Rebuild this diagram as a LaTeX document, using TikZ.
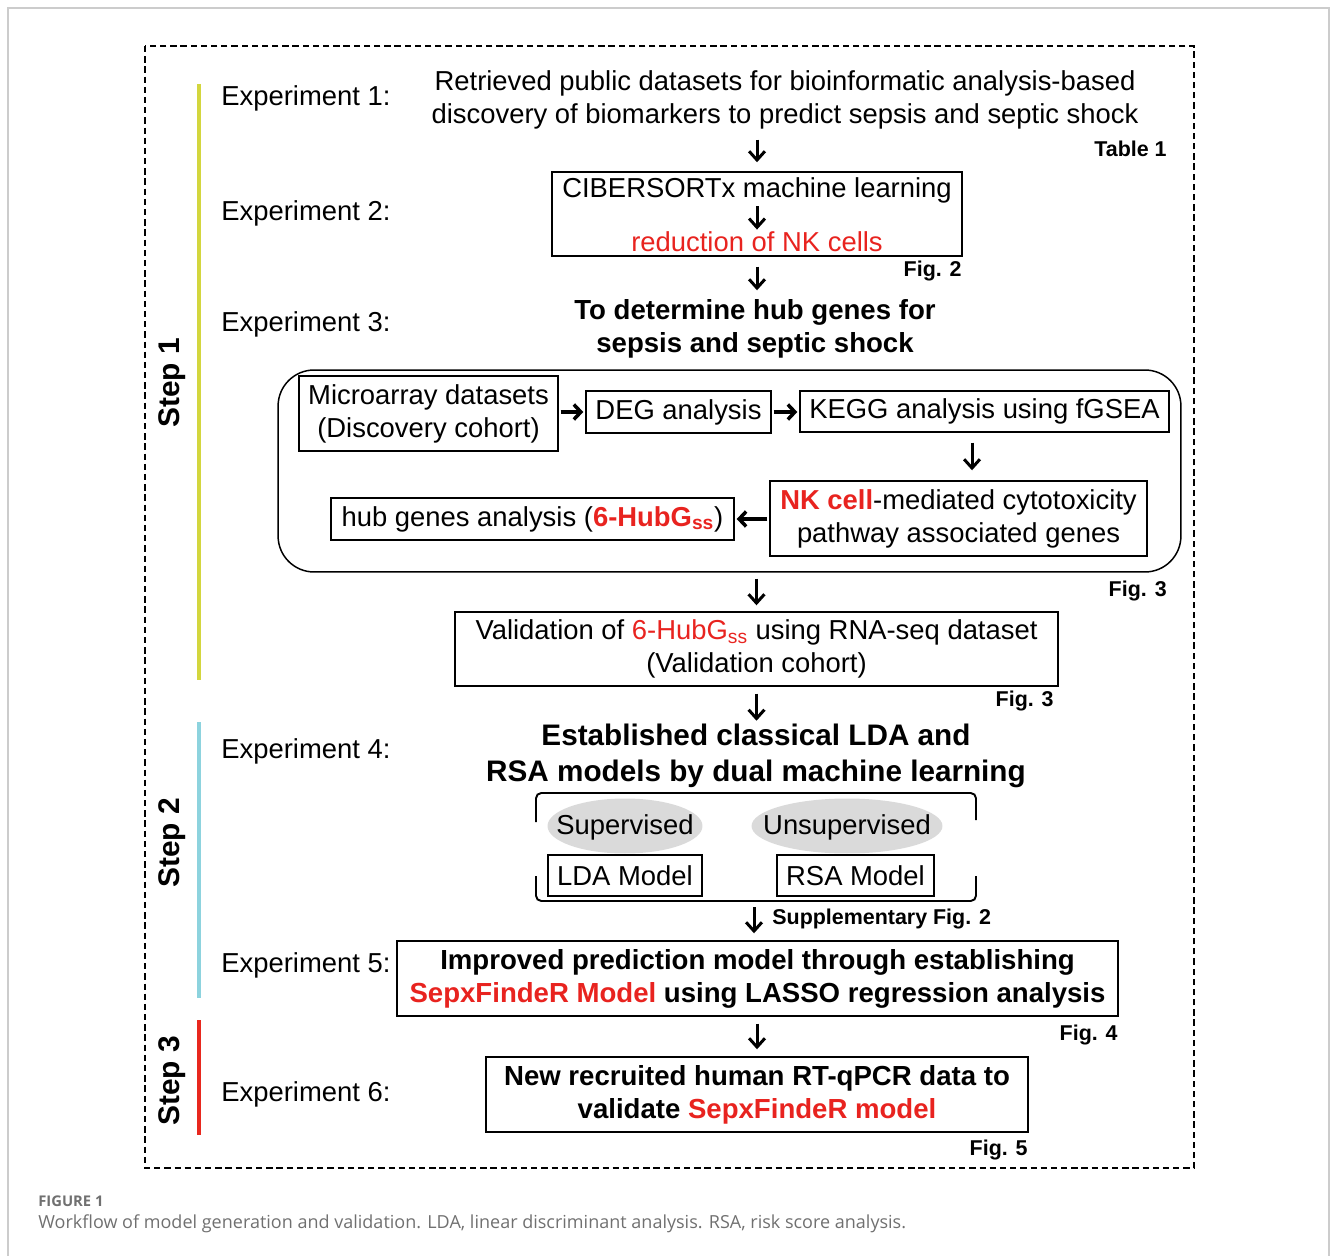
\documentclass[tikz,border=0pt]{standalone}
\usepackage{fontspec}
\setmainfont{Liberation Sans}
\newfontfamily\capfont{Open Sans}
\usetikzlibrary{arrows.meta,positioning,shapes.geometric}

\definecolor{hlred}{HTML}{E8231F}
\definecolor{stepone}{HTML}{D3D63E}
\definecolor{steptwo}{HTML}{8DD3DE}
\definecolor{stepthree}{HTML}{E8281E}
\definecolor{ovalgray}{HTML}{DADADA}
\definecolor{capgray}{HTML}{707070}

\tikzset{
  txt/.style={inner sep=0pt, align=center, font=\fontsize{15.6}{18.8}\selectfont},
  boldtxt/.style={txt, font=\bfseries\fontsize{15.7}{18.8}\selectfont},
  bigtxt/.style={txt, font=\bfseries\fontsize{16.9}{20.5}\selectfont},
  exptxt/.style={txt, anchor=west},
  figref/.style={inner sep=0pt, font=\bfseries\fontsize{12.2}{14}\selectfont},
  steptxt/.style={inner sep=0pt, rotate=90, font=\bfseries\fontsize{17}{20}\selectfont},
  stepbar/.style={line width=2.3pt},
  box/.style={draw, line width=0.85pt, txt},
  arr/.style={-{Straight Barb[length=5pt,width=9pt]}, line width=1.7pt,
    shorten <=0.2cm, shorten >=0.18cm},
  harr/.style={-{Straight Barb[length=4pt,width=8.5pt]}, line width=2pt,
    shorten <=0.04cm, shorten >=0.04cm}
}

\begin{document}
\begin{tikzpicture}[x=0.02cm, y=-0.02cm]
  \useasboundingbox (0,0) rectangle (1331,1256);
  % page frame and caption
  \draw[line width=0.8pt, black!20] (8,1256) -- (8,8) -- (1329,8) -- (1329,1256);
  \draw[line width=1.3pt, dash pattern=on 3.6pt off 2.2pt] (145,46) rectangle (1194,1168);
  \node[anchor=west, inner sep=0pt, text=capgray, font=\capfont\bfseries\fontsize{8.4}{10}\selectfont] (capfig) at (38,1201) {FIGURE 1};
  \node[anchor=west, inner sep=0pt, text=capgray, font=\capfont\fontsize{10.25}{12}\selectfont] (captxt) at (38,1224)
    {Workflow of model generation and validation. LDA, linear discriminant analysis. RSA, risk score analysis.};

  % steps
  \draw[stepbar, stepone] (199,84) -- (199,680);
  \draw[stepbar, steptwo] (199,722) -- (199,998);
  \draw[stepbar, stepthree] (199,1020) -- (199,1135);
  \node[steptxt] (step1) at (172,383) {Step 1};
  \node[steptxt] (step2) at (172,843) {Step 2};
  \node[steptxt] (step3) at (172,1081) {Step 3};

  % experiment labels
  \node[exptxt] (exp1) at (221,98) {Experiment 1:};
  \node[exptxt] (exp2) at (221,213) {Experiment 2:};
  \node[exptxt] (exp3) at (221,324) {Experiment 3:};
  \node[exptxt] (exp4) at (221,751) {Experiment 4:};
  \node[exptxt] (exp5) at (221,965) {Experiment 5:};
  \node[exptxt] (exp6) at (221,1094) {Experiment 6:};

  % experiment 1 and 2
  \node[txt] (retrieved) at (785,100) {Retrieved public datasets for bioinformatic analysis-based\\discovery of biomarkers to predict sepsis and septic shock};
  \node[figref, anchor=east] (tab1) at (1167,149) {Table 1};
  \node[box, minimum width=8.2cm, minimum height=1.68cm] (cibbox) at (757,214) {};
  \node[txt] (cib) at (757,190) {CIBERSORTx machine learning};
  \node[txt, text=hlred] (nkred) at (757,242) {reduction of NK cells};
  \node[figref, anchor=east] (fig2) at (962,271) {Fig. 2};
  \draw[arr] (cibbox.north |- retrieved.south) -- (cibbox.north);
  \draw[arr, shorten <=0.06cm, shorten >=0.04cm] (cib) -- (nkred);

  % experiment 3
  \node[boldtxt] (hubtitle) at (755,329) {To determine hub genes for\\sepsis and septic shock};
  \draw[arr] (cibbox.south) -- (cibbox.south |- hubtitle.north);
  \node[draw, line width=0.85pt, rounded corners=0.72cm, minimum width=18.06cm, minimum height=4.04cm] (panel) at (729.5,471) {};
  \node[box, minimum width=5.18cm, minimum height=1.5cm] (micro) at (428.5,413.5) {Microarray datasets\\(Discovery cohort)};
  \node[box, minimum width=3.7cm, minimum height=0.84cm] (deg) at (678.5,412) {DEG analysis};
  \node[box, minimum width=7.38cm, minimum height=0.82cm] (kegg) at (984.5,411.5) {KEGG analysis using fGSEA};
  \node[box, minimum width=7.54cm, minimum height=1.5cm] (nkbox) at (958.5,518.5)
    {\textcolor{hlred}{\bfseries NK cell}-mediated cytotoxicity\\pathway associated genes};
  \node[box, minimum width=8.06cm, minimum height=0.84cm] (hub) at (532.5,519)
    {hub genes analysis (\textcolor{hlred}{\bfseries 6-HubG\textsubscript{ss}})};
  \draw[harr] (micro.east |- deg) -- (deg.west);
  \draw[harr] (deg) -- (kegg.west |- deg);
  \draw[arr, shorten <=0.2cm, shorten >=0.2cm] ([xshift=-0.25cm]kegg.south) -- ([xshift=-0.25cm]kegg.south |- nkbox.north);
  \draw[harr] (nkbox.west |- hub) -- (hub.east);

  \node[box, minimum width=12.06cm, minimum height=1.48cm] (valbox) at (756.5,649)
    {Validation of \textcolor{hlred}{6-HubG\textsubscript{ss}} using RNA-seq dataset\\(Validation cohort)};
  \node[figref, anchor=east] (fig3a) at (1167,591) {Fig. 3};
  \draw[arr, shorten <=0.12cm, shorten >=0.12cm] (valbox.north |- panel.south) -- (valbox.north);

  % experiment 4
  \node[bigtxt] (established) at (756,756) {Established classical LDA and\\RSA models by dual machine learning};
  \node[figref, anchor=east] (fig3b) at (1054,701) {Fig. 3};
  \draw[arr, shorten <=0.14cm, shorten >=0.06cm] (valbox.south) -- (valbox.south |- established.north);
  \draw[line width=1.1pt, rounded corners=3pt] (536,822) -- (536,793) -- (976,793) -- (976,820);
  \draw[line width=1.1pt, rounded corners=3pt] (536,876) -- (536,901) -- (976,901) -- (976,876);
  \coordinate (brkbot) at (754,901);
  \fill[ovalgray] (625,826) ellipse [x radius=1.55cm, y radius=0.55cm];
  \fill[ovalgray] (847,826) ellipse [x radius=1.91cm, y radius=0.55cm];
  \node[txt] (sup) at (625,827) {Supervised};
  \node[txt] (unsup) at (847,827) {Unsupervised};
  \node[box, minimum width=3.08cm, minimum height=0.82cm] (lda) at (625,875.5) {LDA Model};
  \node[box, minimum width=3.14cm, minimum height=0.82cm] (rsa) at (855.5,875.5) {RSA Model};

  % experiment 5 and 6
  \node[box, boldtxt, minimum width=14.42cm, minimum height=1.5cm] (exp5box) at (757.5,978.5)
    {Improved prediction model through establishing\\\textcolor{hlred}{SepxFindeR Model} using LASSO regression analysis};
  \draw[arr, shorten <=0.12cm, shorten >=0.14cm] (brkbot) -- (brkbot |- exp5box.north);
  \node[figref, anchor=west] (supfig) at (772,919) {Supplementary Fig. 2};
  \node[box, boldtxt, minimum width=10.84cm, minimum height=1.5cm] (exp6box) at (757,1094.5)
    {New recruited human RT-qPCR data to\\validate \textcolor{hlred}{SepxFindeR model}};
  \node[figref, anchor=east] (fig4) at (1118,1035) {Fig. 4};
  \draw[arr, shorten <=0.14cm, shorten >=0.14cm] (exp5box.south -| exp6box.north) -- (exp6box.north);
  \node[figref, anchor=east] (fig5) at (1028,1150) {Fig. 5};
\end{tikzpicture}
\end{document}
